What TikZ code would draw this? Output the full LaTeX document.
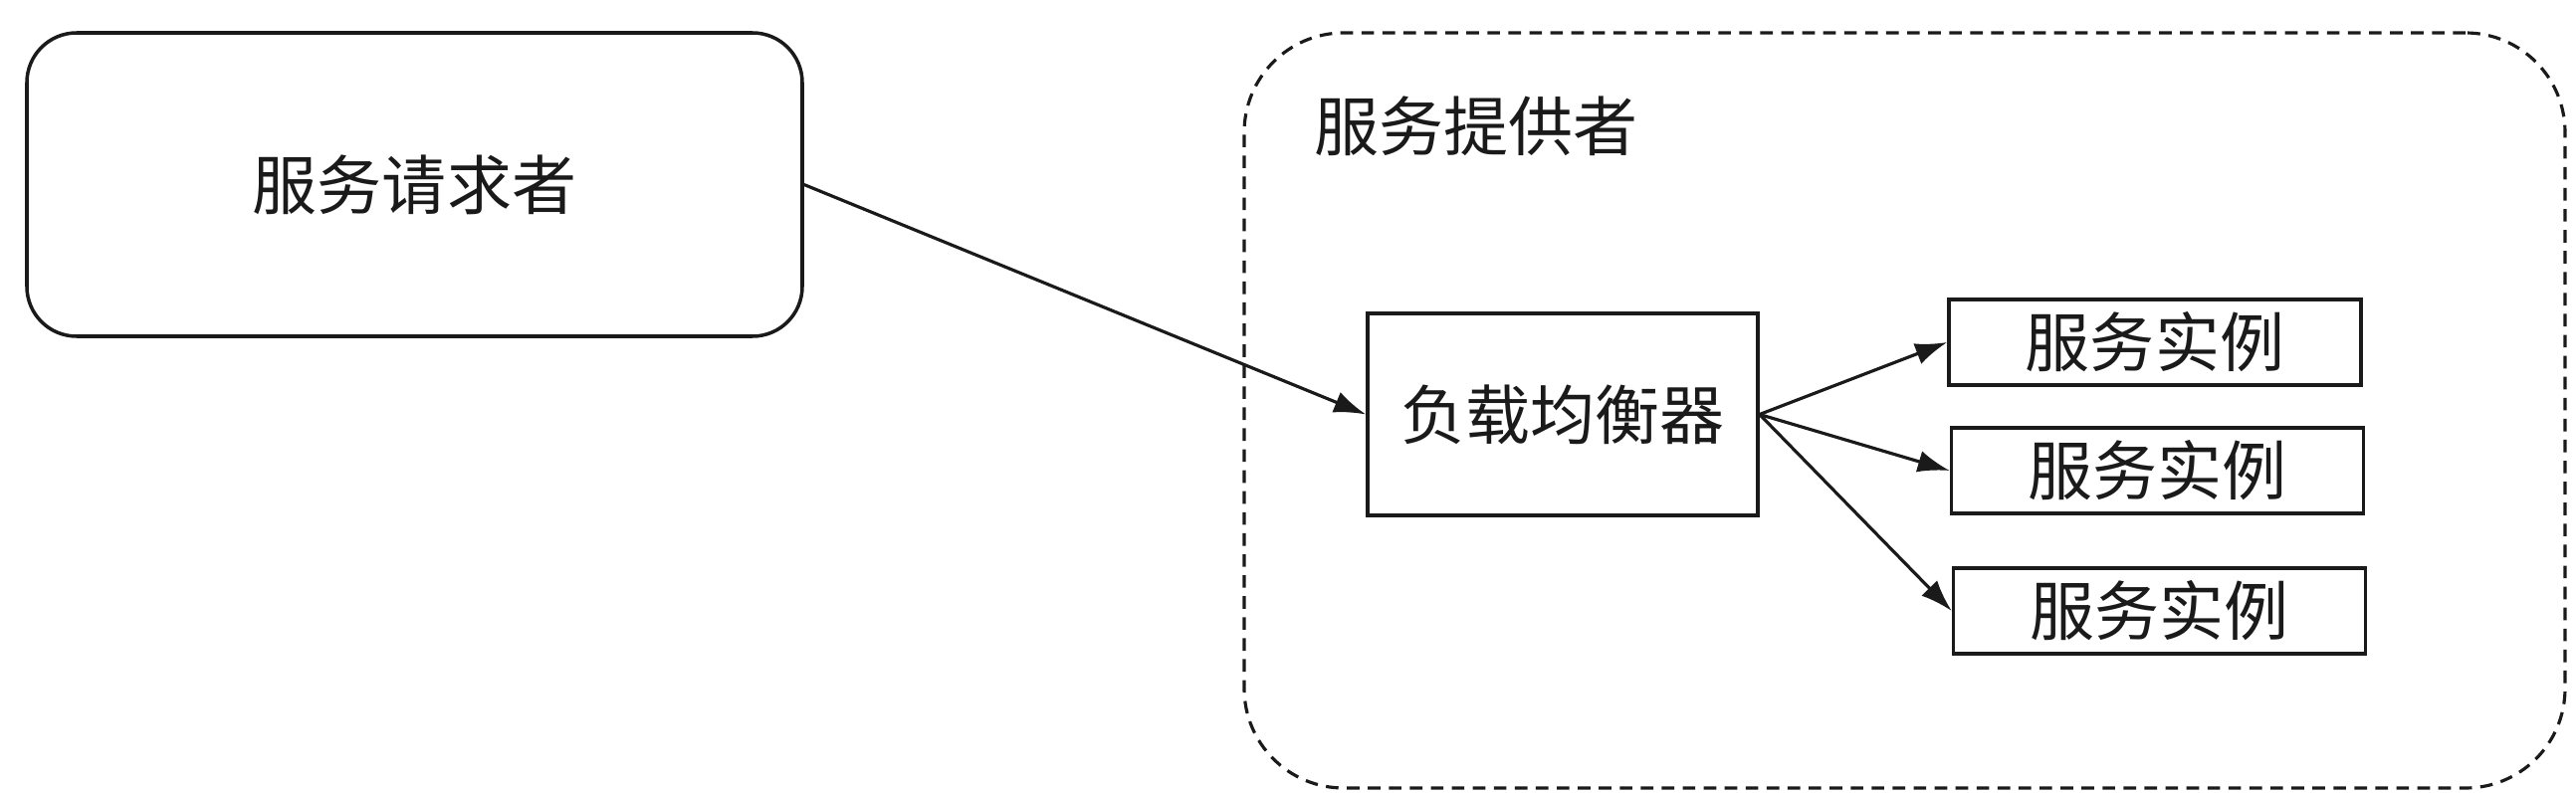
\documentclass[tikz,border=0pt]{standalone}
\usepackage{fontspec}
\newfontfamily\cjk{Noto Sans CJK SC}
\usepackage{tikz}
\usetikzlibrary{arrows.meta, positioning}
\definecolor{lineBlack}{HTML}{1A1A1A}
\tikzset{
    % Common
    arrowFlow/.style={-{Latex[width=2.2mm,length=3.2mm]}, line width=0.9pt, draw=lineBlack},
    baseText/.style={font=\cjk\fontsize{18.5}{22}\selectfont, text=lineBlack},
    % Box Styles
    clientBox/.style={baseText, rectangle, rounded corners=0.5cm, draw=lineBlack, line width=1pt,
        minimum width=7.79cm, minimum height=3.05cm, inner sep=0pt},
    providerFrame/.style={rectangle, rounded corners=1cm, draw=lineBlack, line width=0.9pt,
        dash pattern=on 3.6pt off 2.4pt, minimum width=13.27cm, minimum height=7.59cm, inner sep=0pt},
    frameLabel/.style={baseText, anchor=west, inner sep=0pt},
    balancerBox/.style={baseText, rectangle, draw=lineBlack, line width=1pt,
        minimum width=3.92cm, minimum height=2.03cm, inner sep=0pt},
    instanceBox/.style={baseText, rectangle, draw=lineBlack, line width=1pt,
        minimum width=4.14cm, minimum height=0.86cm, inner sep=0pt}
}
\begin{document}
\begin{tikzpicture}
        \useasboundingbox (0,0) rectangle (25.88,7.96);

        % Provider (dashed frame)
        \node[providerFrame] (provider) at (19.135, 3.835) {};
        \node[frameLabel] (providerLabel) at (13.20, 6.69) {服务提供者};

        % Requester
        \node[clientBox] (requester) at (4.165, 6.105) {服务请求者};

        % Load balancer and instances
        \node[balancerBox] (balancer) at (15.70, 3.795) {负载均衡器};
        \foreach \i/\x/\y in {1/21.65/4.52, 2/21.675/3.23, 3/21.695/1.82} {
            \node[instanceBox] (inst\i) at (\x, \y) {服务实例};
            \draw[arrowFlow] (balancer.east) -- (inst\i.west);
        }

        \draw[arrowFlow] (requester.east) -- (balancer.west);
    \end{tikzpicture}
\end{document}
